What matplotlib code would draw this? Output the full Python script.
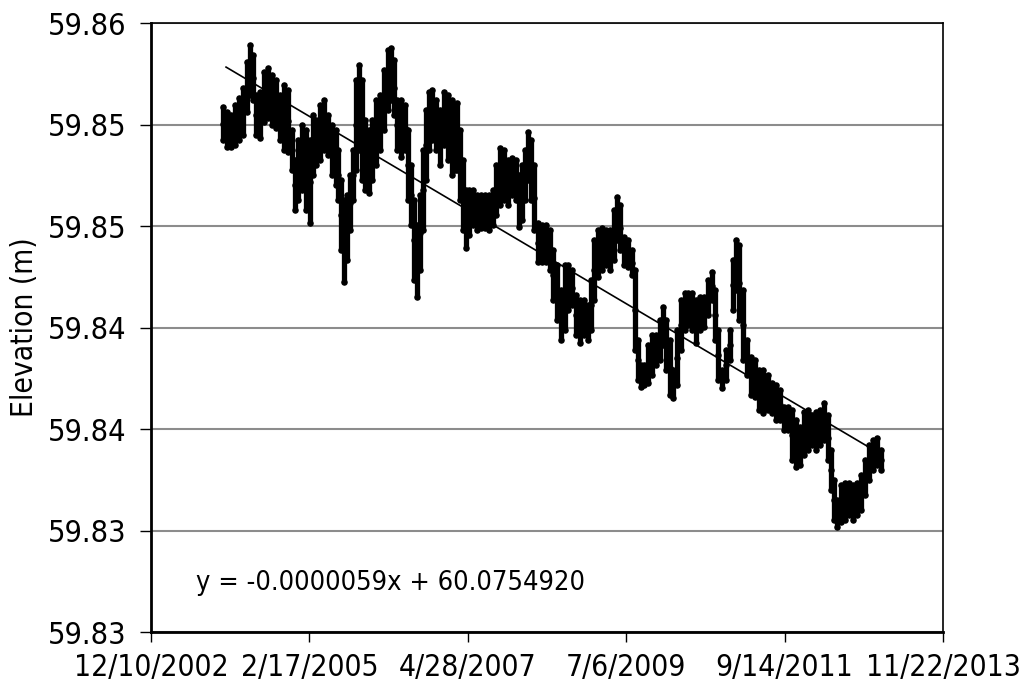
import matplotlib
matplotlib.use("Agg")
import matplotlib.pyplot as plt
from matplotlib import font_manager
import numpy as np

# pick a condensed face if one is installed, otherwise Liberation Sans
narrow = [f for f in font_manager.fontManager.ttflist
          if ('Narrow' in f.name or 'Condensed' in f.name or 'condensed' in str(f.stretch))]
if narrow:
    fam = narrow[0].name
    stretch = narrow[0].stretch
else:
    fam = 'Liberation Sans'
    stretch = 'normal'
plt.rcParams['font.family'] = [fam, 'DejaVu Sans']
plt.rcParams['font.stretch'] = stretch

# x values are Excel serial day numbers (the trend line equation uses them)
day = [37964, 37984, 38004, 38024, 38044, 38065, 38085, 38100, 38115, 38130,
       38151, 38171, 38191, 38211, 38231, 38252, 38272, 38292, 38312, 38327,
       38342, 38363, 38383, 38403, 38418, 38433, 38454, 38474, 38494, 38514,
       38534, 38544, 38560, 38575, 38590, 38605, 38620, 38635, 38651, 38666,
       38681, 38701, 38716, 38736, 38757, 38777, 38797, 38812, 38827, 38842,
       38863, 38883, 38898, 38913, 38928, 38943, 38959, 38974, 38989, 39004,
       39019, 39039, 39060, 39080, 39100, 39120, 39135, 39145, 39161, 39176,
       39191, 39206, 39226, 39246, 39267, 39287, 39307, 39327, 39342, 39363,
       39383, 39403, 39423, 39443, 39459, 39474, 39489, 39504, 39519, 39534,
       39555, 39575, 39595, 39615, 39630, 39650, 39671, 39691, 39706, 39726,
       39746, 39767, 39787, 39807, 39822, 39837, 39858, 39878, 39898, 39918,
       39938, 39954, 39969, 39989, 40009, 40029, 40044, 40060, 40075, 40090,
       40110, 40130, 40151, 40171, 40186, 40201, 40221, 40236, 40257, 40277,
       40297, 40312, 40332, 40352, 40373, 40393, 40413, 40433, 40448, 40464,
       40484, 40504, 40524, 40539, 40555, 40570, 40590, 40610, 40630, 40651,
       40671, 40691, 40716, 40736, 40757, 40777, 40797, 40817, 40837, 40858,
       40878, 40898, 40918, 40938, 40959, 40979, 40999, 41019, 41034, 41049,
       41065, 41085, 41105, 41125, 41145, 41166, 41186, 41206, 41226, 41246,
       41267, 41287]

# upper / lower edge of the daily readings around each date (m)
elev_hi = [59.85086, 59.85061, 59.85046, 59.85096, 59.85130, 59.85180, 59.85308, 59.85392, 59.85342, 59.85145,
           59.85160, 59.85258, 59.85278, 59.85244, 59.85219, 59.85145, 59.85194, 59.85170, 59.84972, 59.84825,
           59.84923, 59.84997, 59.84972, 59.84923, 59.85046, 59.85022, 59.85096, 59.85120, 59.85046, 59.84997,
           59.84972, 59.84874, 59.84726, 59.84627, 59.84652, 59.84751, 59.84874, 59.85219, 59.85293, 59.85219,
           59.85022, 59.84972, 59.85022, 59.85120, 59.85145, 59.85268, 59.85367, 59.85377, 59.85318, 59.85120,
           59.85120, 59.85096, 59.84972, 59.84800, 59.84627, 59.84504, 59.84652, 59.84874, 59.85071, 59.85160,
           59.85170, 59.85120, 59.85071, 59.85160, 59.85145, 59.85120, 59.85096, 59.85106, 59.84972, 59.84825,
           59.84677, 59.84677, 59.84677, 59.84652, 59.84652, 59.84652, 59.84652, 59.84677, 59.84800, 59.84884,
           59.84874, 59.84825, 59.84834, 59.84825, 59.84751, 59.84800, 59.84874, 59.84963, 59.84923, 59.84800,
           59.84514, 59.84504, 59.84504, 59.84480, 59.84381, 59.84307, 59.84184, 59.84307, 59.84307, 59.84282,
           59.84159, 59.84134, 59.84134, 59.84110, 59.84233, 59.84430, 59.84480, 59.84489, 59.84480, 59.84480,
           59.84578, 59.84642, 59.84603, 59.84445, 59.84430, 59.84381, 59.84282, 59.83937, 59.83814, 59.83814,
           59.83913, 59.83962, 59.83962, 59.84036, 59.84100, 59.84036, 59.83937, 59.83789, 59.83986, 59.84134,
           59.84169, 59.84169, 59.84169, 59.84134, 59.84149, 59.84149, 59.84233, 59.84272, 59.84184, 59.83986,
           59.83789, 59.83888, 59.83986, 59.84332, 59.84430, 59.84406, 59.84184, 59.83937, 59.83853, 59.83839,
           59.83789, 59.83789, 59.83765, 59.83725, 59.83715, 59.83691, 59.83607, 59.83607, 59.83592, 59.83543,
           59.83508, 59.83582, 59.83592, 59.83568, 59.83582, 59.83592, 59.83627, 59.83568, 59.83395, 59.83247,
           59.83148, 59.83222, 59.83232, 59.83232, 59.83222, 59.83232, 59.83272, 59.83346, 59.83420, 59.83444,
           59.83454, 59.83395]
elev_lo = [59.84923, 59.84889, 59.84889, 59.84899, 59.84923, 59.84948, 59.85061, 59.85145, 59.85120, 59.84948,
           59.84933, 59.85012, 59.85032, 59.84997, 59.84982, 59.84923, 59.84874, 59.84864, 59.84775, 59.84578,
           59.84627, 59.84677, 59.84578, 59.84514, 59.84751, 59.84800, 59.84825, 59.84874, 59.84849, 59.84751,
           59.84701, 59.84627, 59.84381, 59.84223, 59.84332, 59.84480, 59.84627, 59.84775, 59.84874, 59.84726,
           59.84677, 59.84662, 59.84726, 59.84800, 59.84874, 59.84972, 59.85071, 59.85120, 59.85046, 59.84874,
           59.84839, 59.84874, 59.84627, 59.84504, 59.84233, 59.84149, 59.84282, 59.84480, 59.84726, 59.84874,
           59.84923, 59.84874, 59.84800, 59.84899, 59.84825, 59.84751, 59.84775, 59.84775, 59.84627, 59.84480,
           59.84391, 59.84455, 59.84504, 59.84480, 59.84489, 59.84489, 59.84480, 59.84504, 59.84553, 59.84603,
           59.84627, 59.84603, 59.84652, 59.84627, 59.84494, 59.84529, 59.84627, 59.84726, 59.84627, 59.84480,
           59.84322, 59.84322, 59.84322, 59.84282, 59.84134, 59.84036, 59.83937, 59.83986, 59.84085, 59.84110,
           59.83962, 59.83922, 59.83962, 59.83937, 59.83986, 59.84134, 59.84248, 59.84282, 59.84307, 59.84282,
           59.84332, 59.84430, 59.84381, 59.84307, 59.84297, 59.84258, 59.83888, 59.83740, 59.83705, 59.83715,
           59.83725, 59.83765, 59.83814, 59.83839, 59.83913, 59.83789, 59.83666, 59.83651, 59.83715, 59.83888,
           59.83986, 59.84011, 59.83986, 59.83922, 59.83986, 59.84001, 59.84060, 59.84134, 59.83937, 59.83740,
           59.83701, 59.83740, 59.83839, 59.84085, 59.84184, 59.84036, 59.83839, 59.83765, 59.83666, 59.83656,
           59.83592, 59.83578, 59.83592, 59.83578, 59.83543, 59.83543, 59.83494, 59.83494, 59.83346, 59.83311,
           59.83321, 59.83370, 59.83395, 59.83420, 59.83395, 59.83420, 59.83444, 59.83346, 59.83198, 59.83050,
           59.83015, 59.83040, 59.83050, 59.83074, 59.83050, 59.83074, 59.83099, 59.83173, 59.83247, 59.83296,
           59.83321, 59.83296]

x_ticks = [37600, 38400, 39200, 40000, 40800, 41600]
x_tick_labels = ['12/10/2002', '2/17/2005', '4/28/2007', '7/6/2009', '9/14/2011', '11/22/2013']
y_ticks = [59.825, 59.830, 59.835, 59.840, 59.845, 59.850, 59.855]
y_tick_labels = ['59.83', '59.83', '59.84', '59.84', '59.85', '59.85', '59.86']
equation = 'y = -0.0000059x + 60.0754920'

day = np.array(day)
elev_hi = np.array(elev_hi)
elev_lo = np.array(elev_lo)

if narrow:
    fs, fs_eq = 21.5, 19.5
else:
    fs, fs_eq = 18.5, 16.5

fig = plt.figure(figsize=(10.19, 6.89), dpi=100)
ax = fig.add_axes([0.1482, 0.0827, 0.7772, 0.8839])

ax.vlines(day, elev_lo, elev_hi, colors='black', linewidth=3.8, capstyle='round', zorder=3)
ax.scatter(np.concatenate([day, day]), np.concatenate([elev_hi, elev_lo]), s=22, c='black',
           linewidths=0, zorder=3)
mid = (elev_hi + elev_lo) / 2
ax.scatter(day, mid, s=22, c='black', linewidths=0, zorder=3)

# linear trend through the readings
xs = np.concatenate([day, day])
ys = np.concatenate([elev_hi, elev_lo])
slope, icpt = np.polyfit(xs, ys, 1)
ax.plot([day[0] + 15, day[-1] - 40], [slope * (day[0] + 15) + icpt, slope * (day[-1] - 40) + icpt],
        color='black', lw=1.2, zorder=4)

ax.set_xlim(x_ticks[0], x_ticks[-1])
ax.set_ylim(y_ticks[0], y_ticks[-1])
ax.set_xticks(x_ticks)
ax.set_xticklabels(x_tick_labels)
ax.set_yticks(y_ticks)
ax.set_yticklabels(y_tick_labels)
ax.yaxis.grid(True, color='#8c8c8c', lw=1.5)
ax.set_axisbelow(True)

for side in ['left', 'bottom']:
    ax.spines[side].set_linewidth(2.0)
for side in ['top', 'right']:
    ax.spines[side].set_linewidth(1.2)
ax.tick_params(axis='y', direction='out', length=8, width=1, labelsize=22, pad=10)
ax.tick_params(axis='x', direction='out', length=7, width=1, labelsize=fs, pad=8)
ax.set_ylabel('Elevation (m)', fontsize=21.5, labelpad=6)

ax.text(37827, 59.8274, equation, fontsize=fs_eq, ha='left', va='center')

fig.savefig('out.png', dpi=100)
